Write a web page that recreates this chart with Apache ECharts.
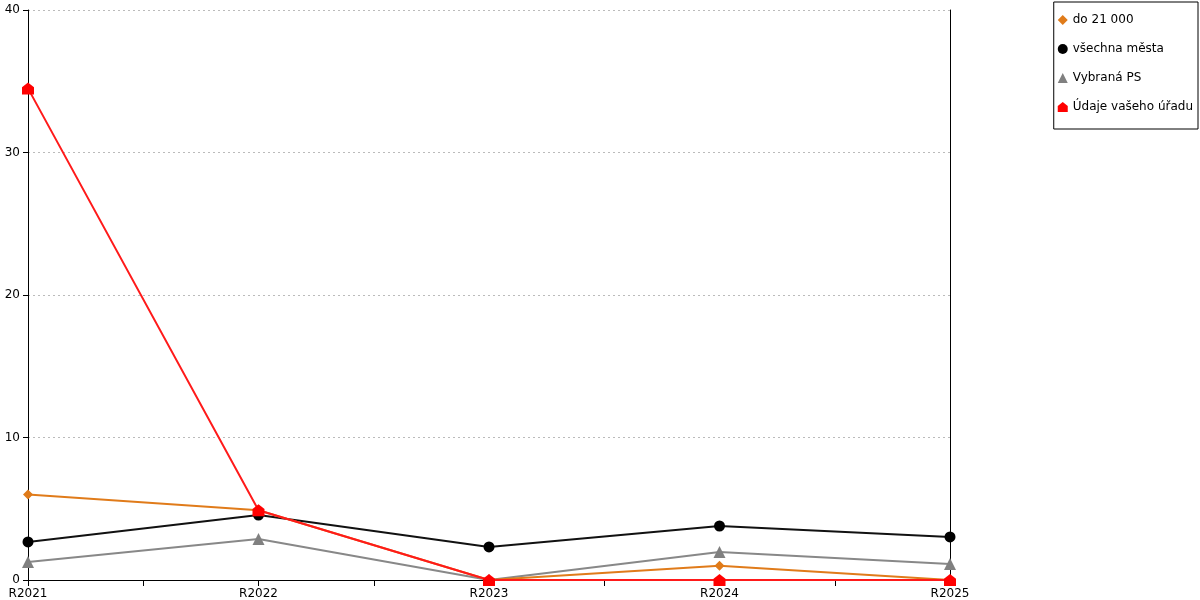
<!DOCTYPE html>
<html>
<head>
<meta charset="utf-8">
<script src="https://cdn.jsdelivr.net/npm/echarts@6/dist/echarts.min.js"></script>
<style>
html,body{margin:0;padding:0;background:#fff;}
#chart{width:1200px;height:600px;}
</style>
</head>
<body>
<div id="chart"></div>
<script>
var categories = ["R2021", "R2022", "R2023", "R2024", "R2025"];
var yTicks = [0, 10, 20, 30, 40];
var seriesNames = ["do 21 000", "všechna města", "Vybraná PS", "Údaje vašeho úřadu"];
var do21000 = [6.0, 4.9, 0, 1.0, 0];
var vsechnaMesta = [2.67, 4.56, 2.32, 3.79, 3.02];
var vybranaPS = [1.26, 2.88, 0, 1.96, 1.12];
var udajeUradu = [34.5, 4.9, 0, 0, 0];

var housePath = 'path://M0,10 L0,4 L5,0 L10,4 L10,10 Z';
var ff = 'DejaVu Sans';

function pts(vals) {
    return vals.map(function (v, i) { return [i, v]; });
}

var myChart = echarts.init(document.getElementById('chart'));
var option = {
    animation: false,
    textStyle: { fontFamily: ff },
    grid: { left: 28, right: 250, top: 10, bottom: 20, containLabel: false },
    legend: {
        orient: 'vertical',
        right: 2,
        top: 2,
        padding: [11, 5, 15, 4],
        itemGap: 15,
        itemWidth: 10,
        itemHeight: 10,
        borderColor: '#000',
        borderWidth: 1,
        textStyle: { fontFamily: ff, fontSize: 12, color: '#000', lineHeight: 14 },
        data: [
            { name: seriesNames[0], icon: 'diamond' },
            { name: seriesNames[1], icon: 'circle' },
            { name: seriesNames[2], icon: 'triangle' },
            { name: seriesNames[3], icon: housePath }
        ]
    },
    xAxis: {
        type: 'value',
        min: 0,
        max: categories.length - 1,
        interval: 0.5,
        splitLine: { show: false },
        axisLine: { lineStyle: { color: '#000', width: 1 } },
        axisTick: { show: true, length: 6, lineStyle: { color: '#000' } },
        axisLabel: {
            color: '#000', fontSize: 12, margin: 8, fontFamily: ff,
            showMinLabel: true, showMaxLabel: true,
            formatter: function (v) {
                return Number.isInteger(v) ? categories[v] : '';
            }
        }
    },
    yAxis: [{
        type: 'value',
        min: yTicks[0],
        max: yTicks[yTicks.length - 1],
        interval: yTicks[1] - yTicks[0],
        axisLine: { show: true, lineStyle: { color: '#000' } },
        axisTick: { show: true, length: 5, lineStyle: { color: '#000' } },
        axisLabel: { color: '#000', fontSize: 12, margin: 8, fontFamily: ff },
        splitLine: { show: true, lineStyle: { color: '#bbb', type: [2, 3], width: 1 } }
    }, {
        type: 'value',
        position: 'right',
        min: yTicks[0],
        max: yTicks[yTicks.length - 1],
        interval: yTicks[1] - yTicks[0],
        axisLine: { show: true, lineStyle: { color: '#000' } },
        axisTick: { show: false },
        axisLabel: { show: false },
        splitLine: { show: false }
    }],
    series: [
        {
            name: seriesNames[0], type: 'line', data: pts(do21000),
            symbol: 'diamond', symbolSize: 10,
            itemStyle: { color: '#e07b1a' },
            lineStyle: { color: '#e07b1a', width: 2 },
            z: 3
        },
        {
            name: seriesNames[1], type: 'line', data: pts(vsechnaMesta),
            symbol: 'circle', symbolSize: 11,
            itemStyle: { color: '#000' },
            lineStyle: { color: '#111', width: 2 },
            z: 2
        },
        {
            name: seriesNames[2], type: 'line', data: pts(vybranaPS),
            symbol: 'triangle', symbolSize: 12,
            itemStyle: { color: '#808080' },
            lineStyle: { color: '#888', width: 2 },
            z: 1
        },
        {
            name: seriesNames[3], type: 'line', data: pts(udajeUradu),
            symbol: housePath, symbolSize: 12,
            itemStyle: { color: '#ff0000' },
            lineStyle: { color: '#ff1a1a', width: 2 },
            z: 4
        }
    ]
};
myChart.setOption(option);
</script>
</body>
</html>
